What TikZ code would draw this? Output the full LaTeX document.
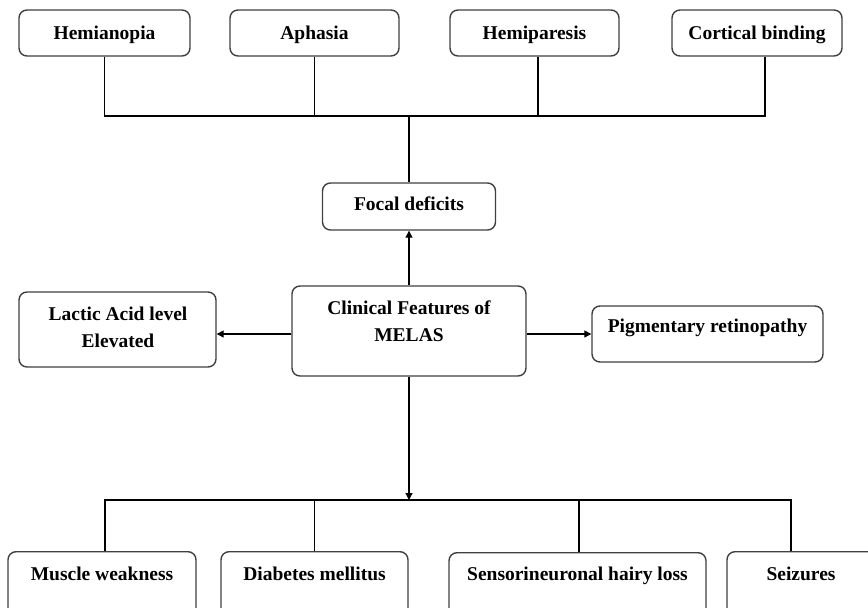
\documentclass[tikz,border=0pt]{standalone}
\usepackage{fontspec}
\setmainfont{Liberation Serif}
\usetikzlibrary{arrows.meta}
\tikzset{
  box/.style={draw=black!75, line width=1.4pt, rounded corners=8pt, fill=white, inner sep=0pt},
  lbl/.style={font=\fontsize{19.5}{27}\selectfont\bfseries, inner sep=0pt, align=center},
  conn/.style={draw=black, line width=1.2pt},
  arr/.style={conn, -{Triangle[length=7pt,width=7pt]}}
}
\begin{document}
\begin{tikzpicture}[x=1pt,y=-1pt]
\useasboundingbox (0,0) rectangle (868,608);
% top row
\node[box, minimum width=171pt, minimum height=46pt] (hemia) at (104.5,33) {};
\node[box, minimum width=169pt, minimum height=46pt] (aph) at (314.5,33) {};
\node[box, minimum width=169pt, minimum height=46pt] (hemip) at (534.5,33) {};
\node[box, minimum width=170pt, minimum height=46pt] (cort) at (757,33) {};
\node[lbl, anchor=base] (hemiaT) at (104.5,39) {Hemianopia};
\node[lbl, anchor=base] (aphT) at (314.5,39) {Aphasia};
\node[lbl, anchor=base] (hemipT) at (534.5,39) {Hemiparesis};
\node[lbl, anchor=base] (cortT) at (757,39) {Cortical binding};
% middle
\node[box, minimum width=173pt, minimum height=47pt] (focal) at (409,206.5) {};
\node[lbl, anchor=base] (focalT) at (409,210) {Focal deficits};
\node[box, minimum width=234pt, minimum height=90pt] (clin) at (409,331) {};
\node[lbl] (clinT) at (409,321) {Clinical Features of\\MELAS};
\node[box, minimum width=197pt, minimum height=75pt] (lact) at (117.5,329.5) {};
\node[lbl] (lactT) at (118,327) {Lactic Acid level\\Elevated};
\node[box, minimum width=231pt, minimum height=56pt] (pig) at (707.5,334) {};
\node[lbl, anchor=base] (pigT) at (707.5,332) {Pigmentary retinopathy};
% bottom row
\node[box, minimum width=188pt, minimum height=90pt, anchor=north] (mus) at (102,551) {};
\node[box, minimum width=187pt, minimum height=90pt, anchor=north] (dia) at (314.5,551) {};
\node[box, minimum width=257pt, minimum height=90pt, anchor=north] (sen) at (577.5,552) {};
\node[box, minimum width=163pt, minimum height=90pt, anchor=north] (sei) at (808.5,551) {};
\node[lbl, anchor=base] (musT) at (102,580) {Muscle weakness};
\node[lbl, anchor=base] (diaT) at (314.5,580) {Diabetes mellitus};
\node[lbl, anchor=base] (senT) at (577.5,580) {Sensorineuronal hairy loss};
\node[lbl, anchor=base] (seiT) at (801,580) {Seizures};
% connectors top
\coordinate (tbus) at (409,116);
\coordinate (bbus) at (409,500);
\coordinate (midy) at (0,334);
\draw[conn] (hemia.south) |- (tbus);
\draw[conn] (aph.south) |- (tbus);
\draw[conn] ([xshift=3.5pt]hemip.south) |- (tbus);
\draw[conn] ([xshift=8pt]cort.south) |- (tbus);
\draw[conn] (tbus) -- (focal.north);
\draw[arr] (clin.north) -- (focal.south);
\draw[arr] (clin.west |- midy) -- (lact.east |- midy);
\draw[arr] (clin.east |- midy) -- (pig.west |- midy);
\draw[arr] (clin.south) -- (bbus);
\draw[conn] ([xshift=3pt]mus.north) |- (bbus);
\draw[conn] (dia.north) |- (bbus);
\draw[conn] ([xshift=1.5pt]sen.north) |- (bbus);
\draw[conn] ([xshift=-17.5pt]sei.north) |- (bbus);
\end{tikzpicture}
\end{document}
